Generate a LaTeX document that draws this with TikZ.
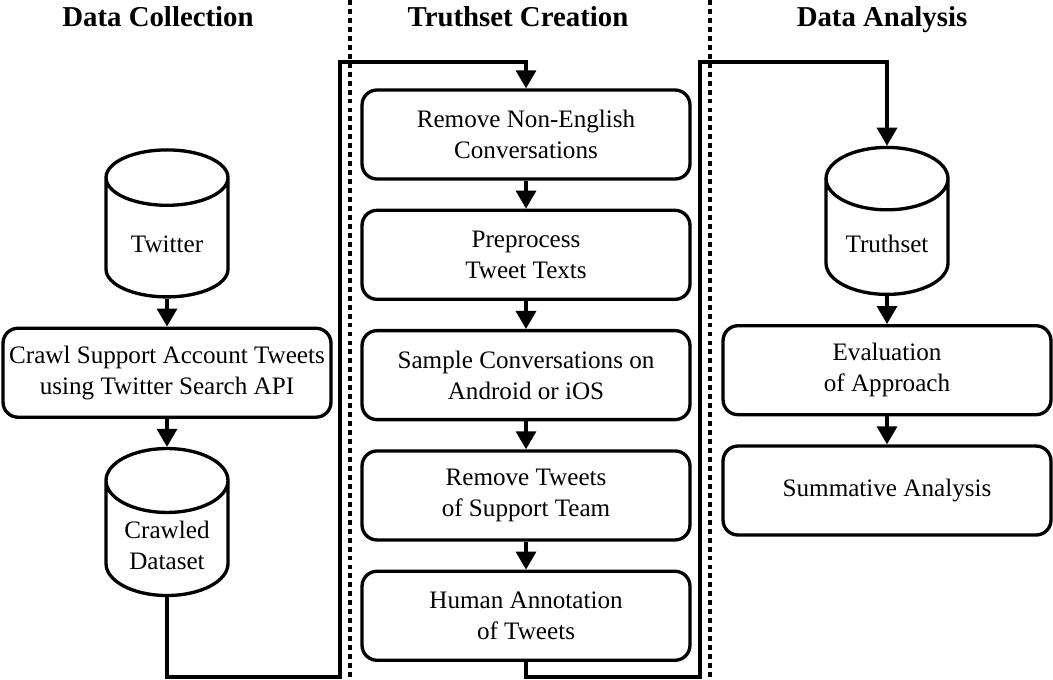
\documentclass[tikz,border=0pt]{standalone}
\usepackage{fontspec}
\setmainfont{Liberation Serif}
\usetikzlibrary{arrows.meta,positioning,shapes.geometric}
\tikzset{
  box/.style={draw, line width=1.9pt, rounded corners=0.3cm, align=center, minimum width=6.56cm, minimum height=1.78cm, font=\fontsize{14.3}{17.6}\selectfont},
  store/.style={draw, line width=1.9pt, cylinder, shape border rotate=90, aspect=0.66, minimum width=2.44cm, minimum height=2.94cm, align=center, font=\fontsize{14.3}{17.6}\selectfont},
  head/.style={anchor=base, font=\fontsize{16.4}{19}\selectfont\bfseries},
  edge/.style={-{Triangle[length=0.36cm, width=0.4cm]}, line width=1.9pt},
  divider/.style={line width=1.8pt, dash pattern=on 2.8pt off 2.3pt}
}

\begin{document}
\begin{tikzpicture}[x=0.02cm, y=-0.02cm, node distance=0.56cm]
\useasboundingbox (0,0) rectangle (1053,679);
% column titles
\node[head] (hdc) at (158,27) {Data Collection};
\node[head] (htc) at (518,27) {Truthset Creation};
\node[head] (hda) at (882,27) {Data Analysis};
% separators
\draw[divider] (350,0) -- (350,679);
\draw[divider] (710,0) -- (710,679);
% data collection
\node[store] (tw) at (167,244) {Twitter};
\node[box, below=of tw] (crawl) {Crawl Support Account Tweets\\using Twitter Search API};
\node[store, below=of crawl] (cds) {Crawled\\Dataset};
% truthset creation
\node[box] (rne) at (526,134.5) {Remove Non-English\\Conversations};
\node[box, below=of rne] (pre) {Preprocess\\Tweet Texts};
\node[box, below=of pre] (smp) {Sample Conversations on\\Android or iOS};
\node[box, below=of smp] (rst) {Remove Tweets\\of Support Team};
\node[box, below=of rst] (ann) {Human Annotation\\of Tweets};
% data analysis
\node[store] (ts) at (887,244) {Truthset};
\node[box, below=of ts] (eva) {Evaluation\\of Approach};
\node[box, below=of eva] (sum) {Summative Analysis};
% flow
\draw[edge] (tw) -- (crawl);
\draw[edge] (crawl) -- (cds);
\draw[edge] (cds.south) |- (340,677) -- (340,62) -| (rne.north);
\draw[edge] (rne) -- (pre);
\draw[edge] (pre) -- (smp);
\draw[edge] (smp) -- (rst);
\draw[edge] (rst) -- (ann);
\draw[edge] (ann.south) |- (700,677) -- (700,62) -| (ts.north);
\draw[edge] (ts) -- (eva);
\draw[edge] (eva) -- (sum);
\end{tikzpicture}
\end{document}
